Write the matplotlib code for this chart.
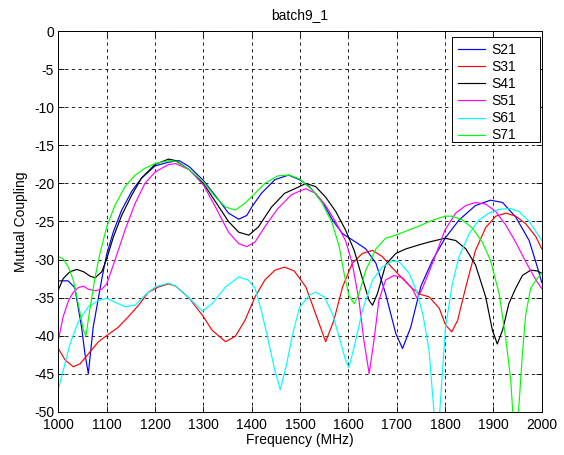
import matplotlib
matplotlib.use("Agg")
import matplotlib.pyplot as plt
from matplotlib.patches import Rectangle

# Frequency (MHz) / coupling (dB) samples for each port pair
f_s21 = [1000, 1020, 1034, 1048, 1055, 1062, 1072, 1083, 1090, 1100, 1114, 1131, 1152, 1172,
         1200, 1228, 1250, 1271, 1300, 1332, 1352, 1373, 1390, 1400, 1420, 1448, 1476, 1499,
         1519, 1546, 1567, 1588, 1615, 1636, 1657, 1677, 1698, 1712, 1729, 1750, 1774, 1800,
         1829, 1863, 1894, 1919, 1946, 1974, 1991, 2000]
s21 = [-32.8, -32.8, -33.7, -38.9, -42.4, -45.0, -38.9, -35.0, -32.5, -29.3, -26.3, -23.5,
       -21.0, -19.3, -17.7, -17.2, -17.0, -17.8, -19.6, -22.2, -23.9, -24.7, -24.2, -23.1,
       -21.3, -19.5, -18.9, -19.5, -20.4, -22.4, -24.8, -26.6, -27.7, -28.6, -30.5, -34.5,
       -39.7, -41.7, -38.9, -33.5, -30.1, -27.2, -24.8, -22.9, -22.2, -22.5, -24.4, -27.5,
       -31.0, -33.0]

f_s31 = [1000, 1014, 1031, 1045, 1062, 1083, 1100, 1124, 1145, 1166, 1186, 1207, 1228, 1243,
         1271, 1300, 1318, 1346, 1366, 1386, 1407, 1427, 1448, 1468, 1488, 1512, 1532, 1553,
         1570, 1588, 1608, 1629, 1650, 1670, 1691, 1712, 1732, 1750, 1767, 1788, 1801, 1814,
         1826, 1843, 1863, 1884, 1905, 1926, 1946, 1967, 1988, 2000]
s31 = [-41.7, -43.2, -44.1, -43.7, -42.4, -40.8, -40.0, -38.9, -37.5, -36.0, -34.3, -33.6,
       -33.2, -33.5, -35.1, -37.5, -39.3, -40.8, -40.1, -38.0, -34.9, -32.7, -31.4, -31.0,
       -31.5, -33.6, -37.1, -40.8, -38.0, -33.6, -30.5, -29.2, -28.8, -29.6, -31.1, -32.5,
       -33.8, -34.6, -34.9, -36.4, -38.6, -39.5, -38.0, -33.6, -28.8, -25.8, -24.3, -23.9,
       -24.3, -25.3, -27.0, -28.6]

f_s41 = [1000, 1010, 1024, 1038, 1052, 1066, 1076, 1090, 1100, 1114, 1131, 1152, 1172, 1200,
         1228, 1243, 1271, 1300, 1325, 1352, 1373, 1394, 1414, 1441, 1468, 1499, 1512, 1532,
         1553, 1574, 1594, 1612, 1629, 1643, 1650, 1660, 1677, 1698, 1719, 1750, 1767, 1800,
         1822, 1843, 1863, 1884, 1898, 1908, 1919, 1932, 1946, 1960, 1977, 1991, 2000]
s41 = [-34.0, -32.5, -31.6, -31.3, -31.6, -32.2, -32.4, -31.6, -29.9, -27.0, -24.2, -21.5,
       -19.3, -17.5, -16.8, -17.0, -18.2, -20.0, -22.4, -25.0, -26.4, -26.8, -25.7, -23.1,
       -21.3, -20.4, -20.0, -20.4, -21.8, -23.7, -26.1, -28.8, -32.5, -35.4, -36.0, -34.5,
       -30.7, -29.2, -28.6, -28.0, -27.7, -27.2, -27.5, -28.6, -30.7, -34.9, -39.3, -41.1,
       -39.3, -35.8, -33.8, -32.1, -31.4, -31.5, -31.8]

f_s51 = [1000, 1010, 1021, 1031, 1041, 1052, 1062, 1076, 1090, 1100, 1117, 1138, 1159, 1179,
         1200, 1228, 1243, 1271, 1300, 1325, 1352, 1373, 1390, 1407, 1427, 1454, 1482, 1499,
         1512, 1532, 1553, 1574, 1594, 1608, 1622, 1632, 1643, 1653, 1663, 1677, 1694, 1712,
         1732, 1742, 1753, 1774, 1800, 1822, 1843, 1863, 1884, 1905, 1926, 1946, 1967, 1988,
         2000]
s51 = [-40.6, -37.5, -35.4, -34.3, -33.7, -33.5, -33.9, -34.1, -33.9, -33.2, -30.1, -26.1,
       -22.6, -20.0, -18.5, -17.5, -17.4, -18.2, -20.2, -23.1, -26.4, -27.9, -28.3, -27.7,
       -25.7, -23.3, -21.5, -21.0, -20.7, -21.3, -22.9, -25.1, -27.5, -30.5, -35.4, -40.6,
       -45.0, -40.6, -35.4, -32.7, -32.1, -32.4, -33.8, -35.1, -33.8, -30.5, -26.1, -23.9,
       -22.9, -22.5, -22.7, -23.7, -25.5, -27.7, -30.3, -32.7, -33.8]

f_s61 = [1000, 1010, 1024, 1041, 1062, 1083, 1100, 1117, 1138, 1159, 1179, 1200, 1228, 1243,
         1271, 1298, 1318, 1346, 1373, 1393, 1407, 1420, 1434, 1448, 1459, 1471, 1485, 1499,
         1519, 1532, 1550, 1567, 1581, 1594, 1601, 1612, 1629, 1650, 1670, 1691, 1705, 1726,
         1743, 1755, 1767, 1777, 1783, 1789, 1801, 1815, 1829, 1850, 1870, 1891, 1912, 1936,
         1953, 1974, 1991, 2000]
s61 = [-47.0, -44.6, -41.1, -38.2, -36.2, -35.4, -35.1, -35.6, -36.2, -36.0, -34.7, -33.6,
       -33.1, -33.5, -35.1, -36.8, -35.8, -33.6, -32.3, -32.7, -33.8, -36.7, -40.6, -44.6,
       -47.1, -44.1, -39.7, -36.3, -34.7, -34.3, -34.9, -37.1, -40.2, -43.2, -44.2, -41.5,
       -36.7, -32.7, -31.0, -30.2, -30.3, -31.8, -34.5, -37.5, -42.0, -50.0, -54.0, -50.0,
       -38.9, -33.2, -29.6, -26.6, -24.8, -23.9, -23.4, -23.3, -23.7, -25.0, -26.6, -27.5]

f_s71 = [1000, 1010, 1021, 1031, 1041, 1052, 1057, 1066, 1076, 1086, 1100, 1117, 1138, 1159,
         1179, 1200, 1228, 1243, 1271, 1300, 1325, 1346, 1366, 1386, 1407, 1427, 1454, 1478,
         1499, 1526, 1546, 1567, 1581, 1591, 1601, 1612, 1622, 1636, 1657, 1677, 1698, 1726,
         1750, 1767, 1800, 1815, 1836, 1857, 1877, 1894, 1912, 1926, 1936, 1940, 1946, 1952,
         1960, 1967, 1977, 1988, 2000]
s71 = [-29.6, -29.9, -31.0, -32.7, -35.8, -39.3, -40.0, -36.2, -32.3, -29.2, -25.7, -22.9,
       -20.4, -18.9, -18.0, -17.4, -17.0, -17.1, -18.2, -19.8, -21.8, -23.1, -23.5, -22.6,
       -21.3, -20.0, -19.0, -18.9, -19.4, -20.9, -22.6, -25.3, -28.3, -31.8, -34.7, -35.8,
       -34.5, -31.4, -28.6, -27.2, -26.8, -26.1, -25.5, -25.0, -24.3, -24.3, -24.8, -25.9,
       -27.7, -30.1, -34.5, -40.6, -45.9, -50.0, -55.0, -50.0, -42.4, -37.2, -33.8, -32.7,
       -31.8]

labels = ["S21", "S31", "S41", "S51", "S61", "S71"]
colors = ["#0000ff", "#ff0000", "#000000", "#ff00ff", "#00ffff", "#00ff00"]
x_ticks = list(range(1000, 2001, 100))
y_ticks = list(range(-50, 1, 5))

plt.rcParams["font.family"] = ["Liberation Sans", "DejaVu Sans"]
plt.rcParams["font.size"] = 10
plt.rcParams["axes.unicode_minus"] = False

fig = plt.figure(figsize=(5.64, 4.55), dpi=100, facecolor="white")
ax = fig.add_axes([0.1035, 0.0952, 0.857, 0.836])

series = [(f_s21, s21), (f_s31, s31), (f_s41, s41), (f_s51, s51), (f_s61, s61), (f_s71, s71)]
for (fx, sy), lab, col in zip(series, labels, colors):
    ax.plot(fx, sy, color=col, lw=0.85, label=lab)

ax.set_xlim(1000, 2000)
ax.set_ylim(-50, 0)
ax.set_xticks(x_ticks)
ax.set_yticks(y_ticks)
ax.grid(True, color="black", lw=0.6, ls=(0, (4, 4)))
ax.set_axisbelow(True)
ax.tick_params(direction="in", length=4, width=0.6, top=True, right=True,
               labelsize=10, colors="black")
ax.tick_params(axis="x", pad=4.5)
ax.tick_params(axis="y", pad=3)
for sp in ax.spines.values():
    sp.set_linewidth(0.7)
    sp.set_color("black")

ax.set_title("batch9_1", fontsize=10, pad=9)
ax.set_xlabel("Frequency (MHz)", fontsize=10, labelpad=1)
ax.set_ylabel("Mutual Coupling", fontsize=10, labelpad=4)

# legend box: white panel with black border, entries placed inside it
box = Rectangle((0.8138, 0.7098), 0.9955 - 0.8138, 0.9842 - 0.7098,
                transform=ax.transAxes, facecolor="white", edgecolor="black",
                lw=0.7, zorder=5)
ax.add_patch(box)
leg = ax.legend(loc="upper left", bbox_to_anchor=(0.8138, 0.9842), frameon=False,
                fontsize=10, handlelength=1.95, handletextpad=0.5, labelspacing=0.22,
                borderpad=0.42, borderaxespad=0)
leg.set_zorder(6)

fig.savefig("out.png", dpi=100, facecolor="white")
